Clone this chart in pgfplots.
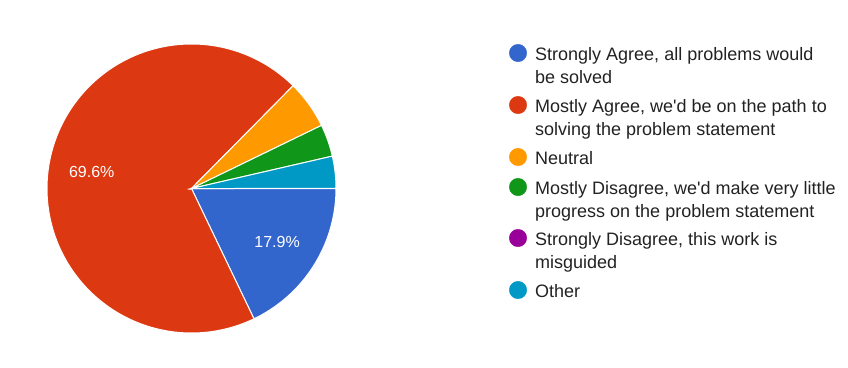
\documentclass[border=0pt]{standalone}
\usepackage{pgfplots}
\pgfplotsset{compat=1.18}
\usepackage{fontspec}
\setmainfont{Liberation Sans}[Ligatures=TeXOff]
\definecolor{cA}{HTML}{3366CC}
\definecolor{cB}{HTML}{DC3912}
\definecolor{cC}{HTML}{FF9900}
\definecolor{cD}{HTML}{109618}
\definecolor{cE}{HTML}{990099}
\definecolor{cF}{HTML}{0099C6}
\definecolor{txt}{HTML}{222222}
\begin{document}
\begin{tikzpicture}
% data: percent of responses
\def\vA{17.9}\def\vB{69.6}\def\vC{5.4}\def\vD{3.6}\def\vE{0}\def\vF{3.6}
\def\cx{191.5}\def\cy{188.5}\def\r{144.5}
\pgfmathsetmacro\tot{\vA+\vB+\vC+\vD+\vE+\vF}
\pgfmathsetmacro\eA{-360*(\vA/\tot)}
\pgfmathsetmacro\eB{\eA-360*(\vB/\tot)}
\pgfmathsetmacro\eC{\eB-360*(\vC/\tot)}
\pgfmathsetmacro\eD{\eC-360*(\vD/\tot)}
\pgfmathsetmacro\eE{\eD-360*(\vE/\tot)}
\pgfmathsetmacro\eF{\eE-360*(\vF/\tot)}
\pgfmathsetmacro\lAx{\cx+0.7*\r*cos(\eA/2)}
\pgfmathsetmacro\lAy{\cy-0.7*\r*sin(\eA/2)}
\pgfmathsetmacro\lBx{\cx+0.7*\r*cos((\eA+\eB)/2)}
\pgfmathsetmacro\lBy{\cy-0.7*\r*sin((\eA+\eB)/2)}
\begin{axis}[
  scale only axis, width=848pt, height=367pt,
  xmin=0, xmax=848, ymin=0, ymax=367, y dir=reverse,
  axis line style={draw=none}, xtick=\empty, ytick=\empty,
  clip=false,
]
\addplot[fill=cA, draw=white, line width=1pt, domain=\eA:0, samples=80]
  ({\cx+\r*cos(x)},{\cy-\r*sin(x)}) -- (axis cs:\cx,\cy) -- cycle;
\addplot[fill=cB, draw=white, line width=1pt, domain=\eB:\eA, samples=200]
  ({\cx+\r*cos(x)},{\cy-\r*sin(x)}) -- (axis cs:\cx,\cy) -- cycle;
\addplot[fill=cC, draw=white, line width=1pt, domain=\eC:\eB, samples=30]
  ({\cx+\r*cos(x)},{\cy-\r*sin(x)}) -- (axis cs:\cx,\cy) -- cycle;
\addplot[fill=cD, draw=white, line width=1pt, domain=\eD:\eC, samples=30]
  ({\cx+\r*cos(x)},{\cy-\r*sin(x)}) -- (axis cs:\cx,\cy) -- cycle;
\addplot[fill=cF, draw=white, line width=1pt, domain=\eF:\eE, samples=30]
  ({\cx+\r*cos(x)},{\cy-\r*sin(x)}) -- (axis cs:\cx,\cy) -- cycle;
\node[text=white, font=\fontsize{16}{19}\selectfont] at (axis cs:\lAx,\lAy) {17.9\%};
\node[text=white, font=\fontsize{16}{19}\selectfont] at (axis cs:\lBx,\lBy) {69.6\%};
% legend
\addplot[only marks, mark=*, mark size=8.7pt, color=cA] coordinates {(518,53)};
\addplot[only marks, mark=*, mark size=8.7pt, color=cB] coordinates {(518,105)};
\addplot[only marks, mark=*, mark size=8.7pt, color=cC] coordinates {(518,157)};
\addplot[only marks, mark=*, mark size=8.7pt, color=cD] coordinates {(518,187)};
\addplot[only marks, mark=*, mark size=8.7pt, color=cE] coordinates {(518,238)};
\addplot[only marks, mark=*, mark size=8.7pt, color=cF] coordinates {(518,290)};
\begin{scope}[every node/.style={anchor=base west, inner sep=0pt, text=txt, font=\fontsize{18}{24}\selectfont}]
\node at (axis cs:535,60) {Strongly Agree, all problems would};
\node at (axis cs:535,83.5) {be solved};
\node at (axis cs:535,112) {Mostly Agree, we'd be on the path to};
\node at (axis cs:535,135.5) {solving the problem statement};
\node at (axis cs:535,164) {Neutral};
\node at (axis cs:535,194) {Mostly Disagree, we'd make very little};
\node at (axis cs:535,217.5) {progress on the problem statement};
\node at (axis cs:535,245) {Strongly Disagree, this work is};
\node at (axis cs:535,268.5) {misguided};
\node at (axis cs:535,297) {Other};
\end{scope}
\end{axis}
\end{tikzpicture}
\end{document}
